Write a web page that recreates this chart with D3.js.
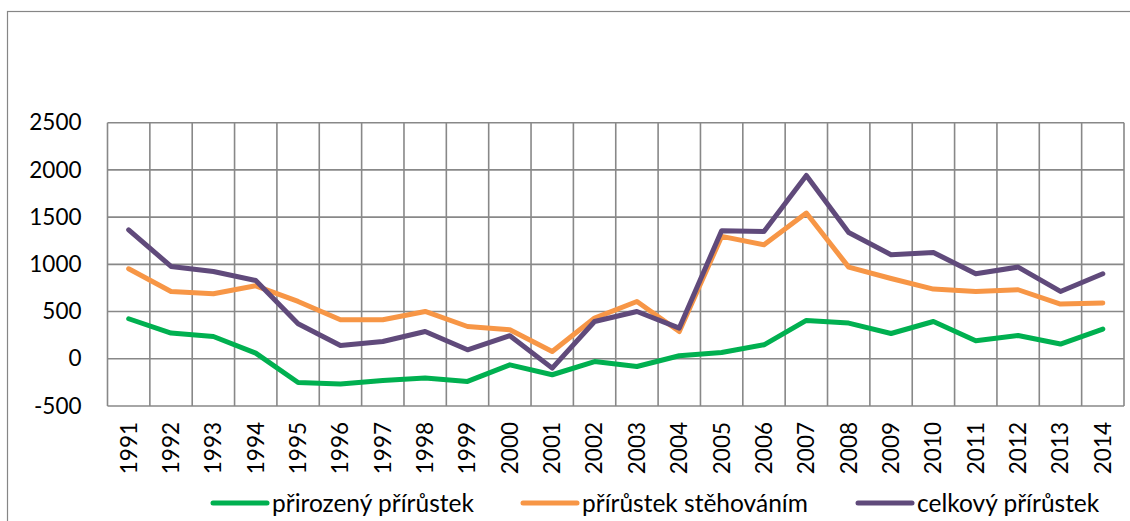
<!DOCTYPE html>
<html>
<head>
<meta charset="utf-8">
<script src="https://cdn.jsdelivr.net/npm/d3@7"></script>
<style>
  body { margin: 0; background: #fff; }
  text { font-family: Lato, "Open Sans", sans-serif; fill: #000; }
</style>
</head>
<body>
<script>
const years = ['1991','1992','1993','1994','1995','1996','1997','1998','1999','2000','2001','2002',
    '2003','2004','2005','2006','2007','2008','2009','2010','2011','2012','2013','2014'];

const natural = [424, 272, 236, 60, -251, -268, -230, -204, -240, -64, -169, -29,
    -82, 32, 67, 148, 406, 378, 268, 395, 191, 247, 156, 315];
const migration = [953, 713, 689, 773, 607, 413, 413, 501, 342, 307, 77, 431,
    607, 289, 1296, 1208, 1543, 971, 850, 738, 713, 731, 579, 590];
const total = [1366, 978, 925, 829, 371, 141, 183, 289, 95, 244, -99, 395,
    501, 325, 1356, 1349, 1942, 1338, 1102, 1126, 900, 971, 713, 900];

const yTicks = [-500, 0, 500, 1000, 1500, 2000, 2500];

const series = [
    {name: 'přirozený přírůstek', values: natural, color: '#00b050'},
    {name: 'přírůstek stěhováním', values: migration, color: '#f79646'},
    {name: 'celkový přírůstek', values: total, color: '#604a7b'}
];

const width = 1130;
const height = 521;
const plot = {left: 107.5, right: 1124, top: 122.7, bottom: 406};

const svg = d3.select('body').append('svg')
    .attr('width', width)
    .attr('height', height);

// outer chart border
svg.append('rect')
    .attr('x', 7.5)
    .attr('y', 11.5)
    .attr('width', 1140)
    .attr('height', 540)
    .attr('fill', 'none')
    .attr('stroke', '#868686')
    .attr('stroke-width', 1.2);

const xScale = d3.scaleBand()
    .domain(years)
    .range([plot.left, plot.right]);

const yScale = d3.scaleLinear()
    .domain([-500, 2500])
    .range([plot.bottom, plot.top]);

// grid
const grid = svg.append('g').attr('stroke', '#888').attr('stroke-width', 1.6);
grid.selectAll('line.h')
    .data(yTicks)
    .enter().append('line')
    .attr('class', 'h')
    .attr('x1', plot.left).attr('x2', plot.right)
    .attr('y1', d => yScale(d)).attr('y2', d => yScale(d));
grid.selectAll('line.v')
    .data(years.concat(['end']))
    .enter().append('line')
    .attr('class', 'v')
    .attr('x1', (d, i) => i < years.length ? xScale(d) : plot.right)
    .attr('x2', (d, i) => i < years.length ? xScale(d) : plot.right)
    .attr('y1', plot.top).attr('y2', plot.bottom);

// y axis labels
const yAxis = d3.axisLeft(yScale)
    .tickValues(yTicks)
    .tickFormat(d => String(d))
    .tickSize(0)
    .tickPadding(26);
const yG = svg.append('g')
    .attr('transform', `translate(${plot.left}, 0)`)
    .call(yAxis);
yG.select('.domain').remove();
yG.selectAll('text')
    .style('font-size', '22.5px')
    .style('font-family', 'Lato, sans-serif')
    .attr('fill', '#000');

// x axis labels, rotated
svg.append('g')
    .selectAll('text')
    .data(years)
    .enter().append('text')
    .attr('transform', d => `translate(${xScale(d) + xScale.bandwidth() / 2}, 422) rotate(-90)`)
    .attr('text-anchor', 'end')
    .attr('dy', '0.35em')
    .style('font-size', '22.5px')
    .text(d => d);

// lines
const line = d3.line()
    .x((d, i) => xScale(years[i]) + xScale.bandwidth() / 2)
    .y(d => yScale(d));

svg.append('g')
    .selectAll('path')
    .data(series)
    .enter().append('path')
    .attr('d', d => line(d.values))
    .attr('fill', 'none')
    .attr('stroke', d => d.color)
    .attr('stroke-width', 5)
    .attr('stroke-linejoin', 'round')
    .attr('stroke-linecap', 'round');

// legend
const legendX = [213, 523, 858];
const legend = svg.append('g')
    .selectAll('g')
    .data(series)
    .enter().append('g')
    .attr('transform', (d, i) => `translate(${legendX[i]}, 503)`);
legend.append('line')
    .attr('x1', 0).attr('x2', 54)
    .attr('stroke', d => d.color)
    .attr('stroke-width', 5)
    .attr('stroke-linecap', 'round');
legend.append('text')
    .attr('x', 59)
    .attr('dy', '0.35em')
    .style('font-size', '24.5px')
    .text(d => d.name);
</script>
</body>
</html>
